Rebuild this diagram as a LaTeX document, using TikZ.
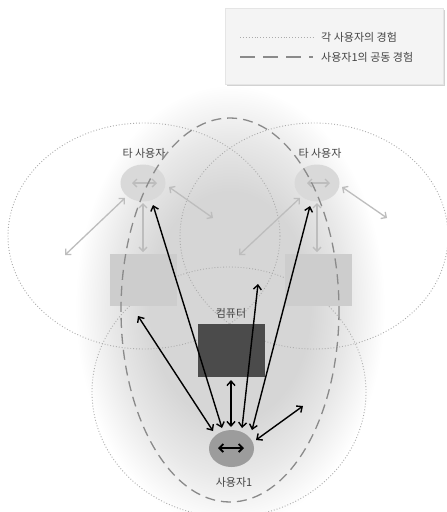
\documentclass[tikz,border=0pt]{standalone}
\usepackage{fontspec}
\setmainfont{Noto Sans CJK KR}
\usetikzlibrary{arrows.meta,shadows,shapes.geometric}
\definecolor{glowc}{gray}{0.84}
\definecolor{glowm}{gray}{0.91}
\definecolor{dotc}{HTML}{ABABAB}
\definecolor{dashc}{HTML}{8A8A8A}
\definecolor{garc}{HTML}{BDBDBD}
\definecolor{ocirc}{HTML}{D9D9D9}
\definecolor{orect}{HTML}{CDCDCD}
\definecolor{compc}{HTML}{4B4B4B}
\definecolor{u1c}{HTML}{9C9C9C}
\definecolor{txtc}{HTML}{444444}
\definecolor{legc}{HTML}{F4F4F4}
\pgfdeclareradialshading{glow}{\pgfpoint{0bp}{0bp}}{color(0bp)=(glowc); color(13bp)=(glowc); color(19bp)=(glowm); color(25bp)=(white); color(50bp)=(white)}
\begin{document}
\begin{tikzpicture}[x=1pt,y=-1pt,
  lbl/.style={font=\fontsize{11}{13}\selectfont, text=txtc, inner sep=1pt},
  dotline/.style={draw=dotc, line width=0.9pt, dash pattern=on 0.9pt off 2pt},
  dashline/.style={draw=dashc, line width=1.3pt, dash pattern=on 10pt off 6pt},
  legdash/.style={draw=dashc, line width=1.3pt, dash pattern=on 15pt off 8pt},
  garrow/.style={draw=garc, line width=1.3pt, {Straight Barb[length=4pt,width=8pt]}-{Straight Barb[length=4pt,width=8pt]}},
  barrow/.style={draw=black, line width=1.4pt, {Straight Barb[length=4.5pt,width=8pt]}-{Straight Barb[length=4.5pt,width=8pt]}},
  ouser/.style={ellipse, fill=ocirc, minimum width=45pt, minimum height=37pt, inner sep=0pt},
  odev/.style={rectangle, fill=orect, minimum width=67pt, minimum height=52pt, inner sep=0pt},
  legendbox/.style={rectangle, fill=legc, draw=gray!20, line width=0.4pt, minimum width=218pt, minimum height=76pt,
    drop shadow={shadow xshift=1.5pt, shadow yshift=-2pt, opacity=0.35, fill=gray}}
]
\useasboundingbox (0,0) rectangle (447,512);
\fill[white] (0,0) rectangle (447,512);
% glow
\shade[shading=glow] (75,85) rectangle (385,528);
% dotted experience areas
\draw[dotline] (144,236) ellipse [x radius=136, y radius=113];
\draw[dotline] (314,236) ellipse [x radius=134, y radius=113];
\draw[dotline] (229,392) ellipse [x radius=137, y radius=125];
% legend
\node[legendbox] (leg) at (334,46) {};
\coordinate (la1) at (240,37); \coordinate (lb1) at (313,37);
\coordinate (la2) at (240,57); \coordinate (lb2) at (313,57);
\draw[dotline] (la1) -- (lb1);
\draw[legdash] (la2) -- (lb2);
\node[lbl, anchor=west] (lt1) at (320,37) {각 사용자의 경험};
\node[lbl, anchor=west] (lt2) at (320,57) {사용자1의 공동 경험};
% other users
\node[odev] (ldev) at (143.5,280) {};
\node[odev] (rdev) at (318,280) {};
\node[ouser] (lu) at (143,183) {};
\node[ouser] (ru) at (317,183) {};
\node[lbl] (lul) at (144,153) {타 사용자};
\node[lbl] (rul) at (320,153) {타 사용자};
% gray arrows
\coordinate (lui1) at (132,183); \coordinate (lui2) at (157,183);
\coordinate (rui1) at (307,183); \coordinate (rui2) at (330,183);
\coordinate (lub) at (143,203); \coordinate (ldt) at (143,252);
\coordinate (rub) at (317,203); \coordinate (rdt) at (317,252);
\coordinate (lul1) at (125,198); \coordinate (lul2) at (65,255);
\coordinate (lur1) at (169,187); \coordinate (lur2) at (213,218);
\coordinate (rul1) at (300,198); \coordinate (rul2) at (239,255);
\coordinate (rur1) at (342,187); \coordinate (rur2) at (387,218);
\draw[garrow] (lui1) -- (lui2);
\draw[garrow] (rui1) -- (rui2);
\draw[garrow] (lub) -- (ldt);
\draw[garrow] (rub) -- (rdt);
\draw[garrow] (lul1) -- (lul2);
\draw[garrow] (lur1) -- (lur2);
\draw[garrow] (rul1) -- (rul2);
\draw[garrow] (rur1) -- (rur2);
% shared experience
\draw[dashline] (230,310) ellipse [x radius=109, y radius=192];
% computer and user 1
\node[rectangle, fill=compc, minimum width=67pt, minimum height=53pt, inner sep=0pt] (comp) at (231.5,350.5) {};
\node[lbl] (compl) at (231,313) {컴퓨터};
\node[ellipse, fill=u1c, minimum width=45pt, minimum height=37pt, inner sep=0pt] (u1) at (231.5,448.5) {};
\node[lbl] (u1l) at (234,482) {사용자1};
\coordinate (ui1) at (218,448); \coordinate (ui2) at (244,448);
\draw[draw=black, line width=1.8pt, {Straight Barb[length=4pt,width=8pt]}-{Straight Barb[length=4pt,width=8pt]}] (ui1) -- (ui2);
% black arrows
\coordinate (a1s) at (213,431); \coordinate (a1e) at (138,316);
\coordinate (a2s) at (222,428); \coordinate (a2e) at (153,205);
\coordinate (a3s) at (231,427); \coordinate (a3e) at (231,380);
\coordinate (a4s) at (242,428); \coordinate (a4e) at (258,284);
\coordinate (a5s) at (252,430); \coordinate (a5e) at (310,206);
\coordinate (a6s) at (256,440); \coordinate (a6e) at (303,406);
\draw[barrow] (a1s) -- (a1e);
\draw[barrow] (a2s) -- (a2e);
\draw[barrow] (a3s) -- (a3e);
\draw[barrow] (a4s) -- (a4e);
\draw[barrow] (a5s) -- (a5e);
\draw[barrow] (a6s) -- (a6e);
\end{tikzpicture}
\end{document}
